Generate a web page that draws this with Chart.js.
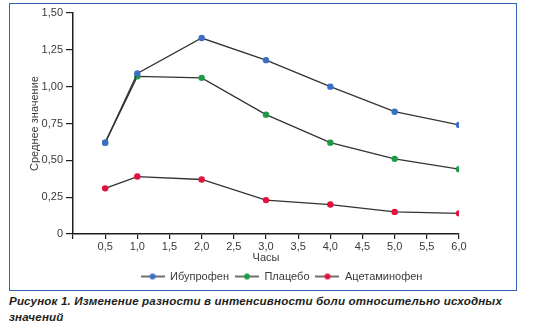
<!DOCTYPE html>
<html>
<head>
<meta charset="utf-8">
<script src="https://cdn.jsdelivr.net/npm/chart.js@4/dist/chart.umd.min.js"></script>
<style>
  html, body { margin: 0; padding: 0; width: 542px; height: 331px; overflow: hidden; background: #fff; }
  #frame { position: absolute; left: 9px; top: 3px; width: 508px; height: 288px; box-sizing: border-box; border: 1.5px solid #3561b3; }
  #wrap { position: absolute; left: 0; top: 0; width: 563px; height: 292px; }
  #caption { position: absolute; left: 9px; top: 293px; white-space: nowrap; font-family: "Liberation Sans", Arial, sans-serif; font-weight: bold; font-style: italic; font-size: 11.6px; line-height: 16px; color: #231f20; letter-spacing: 0.15px; }
</style>
</head>
<body>
<div id="frame"></div>
<div id="wrap"><canvas id="c" width="563" height="292"></canvas></div>
<div id="caption">Рисунок 1. Изменение разности в интенсивности боли относительно исходных<br>значений</div>
<script>
// ---- data ----
const hours = [0.5, 1.0, 2.0, 3.0, 4.0, 5.0, 6.0];
const seriesNames = ['Ибупрофен', 'Плацебо', 'Ацетаминофен'];
const ibuprofen = [0.62, 1.09, 1.33, 1.18, 1.00, 0.83, 0.74];
const placebo = [0.62, 1.07, 1.06, 0.81, 0.62, 0.51, 0.44];
const acetaminophen = [0.31, 0.39, 0.37, 0.23, 0.20, 0.15, 0.14];
const xAxisTitle = 'Часы';
const yAxisTitle = 'Среднее значение';

// ---- styles ----
const pointColors = ['#3b6fc6', '#1f9a46', '#e2113d'];
const lineColor = '#333333';
const axisColor = '#1e1e1e';
const textColor = '#3a3a3a';
const font = "'Liberation Sans', Arial, sans-serif";

function markerImage(color) {
  const cv = document.createElement('canvas');
  cv.width = 24; cv.height = 8;
  const g = cv.getContext('2d');
  g.strokeStyle = '#222'; g.lineWidth = 1.3;
  g.beginPath(); g.moveTo(0, 4); g.lineTo(24, 4); g.stroke();
  g.fillStyle = color;
  g.beginPath(); g.arc(12, 4, 3, 0, Math.PI * 2); g.fill();
  return cv;
}

const seriesValues = [ibuprofen, placebo, acetaminophen];
const datasets = seriesValues.map((vals, i) => ({
  label: seriesNames[i],
  data: hours.map((h, j) => ({ x: h, y: vals[j] })),
  borderColor: lineColor,
  borderWidth: 1.3,
  pointBackgroundColor: pointColors[i],
  pointBorderWidth: 0,
  pointRadius: 3.2,
  pointHoverRadius: 3.2,
  tension: 0,
  fill: false
}));

const fmt = (v, d) => v === 0 ? '0' : v.toFixed(d).replace('.', ',');

new Chart(document.getElementById('c'), {
  type: 'line',
  data: { datasets },
  options: {
    responsive: false,
    animation: false,
    layout: { padding: { top: 13, left: 0, right: 0, bottom: 0 } },
    plugins: {
      tooltip: { enabled: false },
      legend: {
        position: 'bottom',
        labels: {
          usePointStyle: true,
          pointStyleWidth: 24,
          padding: 6,
          color: textColor,
          font: { family: font, size: 11 },
          generateLabels: (chart) => chart.data.datasets.map((ds, i) => ({
            text: ds.label,
            pointStyle: markerImage(pointColors[i]),
            fillStyle: pointColors[i],
            strokeStyle: pointColors[i],
            lineWidth: 0,
            hidden: false,
            datasetIndex: i,
            fontColor: textColor
          }))
        }
      }
    },
    scales: {
      x: {
        type: 'linear',
        min: 0, max: 6,
        afterFit: (s) => { s.height = 31; },
        border: { color: axisColor, width: 1.5 },
        grid: { display: true, drawOnChartArea: false, drawTicks: true, tickLength: 5, color: axisColor, lineWidth: 1.2 },
        ticks: {
          stepSize: 0.5, padding: 2, color: textColor,
          font: { family: font, size: 11, lineHeight: 1 },
          maxRotation: 0, autoSkip: false,
          callback: (v) => v === 0 ? '' : fmt(v, 1)
        },
        title: { display: true, text: xAxisTitle, color: textColor, padding: 0, font: { family: font, size: 11 } }
      },
      y: {
        min: 0, max: 1.5,
        afterFit: (s) => { s.width = 73; },
        border: { color: axisColor, width: 1.5 },
        grid: { display: true, drawOnChartArea: false, drawTicks: true, tickLength: 7, color: axisColor, lineWidth: 1.2 },
        ticks: {
          stepSize: 0.25, padding: 3, color: textColor,
          font: { family: font, size: 11 },
          callback: (v) => fmt(v, 2)
        },
        title: { display: true, text: yAxisTitle, color: textColor, padding: { top: 28, bottom: 0 }, font: { family: font, size: 11 } }
      },
      yRight: {
        position: 'right',
        display: true,
        afterFit: (s) => { s.width = 104; },
        grid: { display: false },
        border: { display: false },
        ticks: { display: false }
      }
    }
  }
});
</script>
</body>
</html>
